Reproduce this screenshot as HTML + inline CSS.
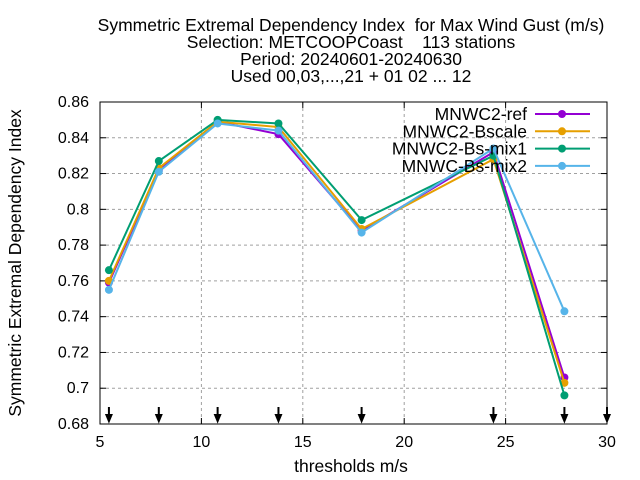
<!DOCTYPE html>
<html><head><meta charset="utf-8"><style>
body{margin:0;background:#fff}
svg{display:block;font-family:"Liberation Sans",sans-serif}
text{white-space:pre}
</style></head><body>
<svg id="c" width="640" height="480" xmlns="http://www.w3.org/2000/svg">
<g id="title" font-size="17.5" text-anchor="middle" fill="#000">
<text x="351" y="31" xml:space="preserve">Symmetric Extremal Dependency Index  for Max Wind Gust (m/s)</text>
<text x="351" y="48" xml:space="preserve">Selection: METCOOPCoast    113 stations</text>
<text x="351" y="65">Period: 20240601-20240630</text>
<text x="351" y="82">Used 00,03,...,21 + 01 02 ... 12</text>
</g>
<g id="grid"></g>
<g id="axes"></g>
<g id="series"></g>
<g id="legend"></g>
<text x="351" y="472" font-size="17.5" text-anchor="middle">thresholds m/s</text>
<text transform="translate(21,263) rotate(-90)" font-size="17.5" text-anchor="middle">Symmetric Extremal Dependency Index</text>
</svg>
<script>
const thresholds=[5.44,7.9,10.8,13.8,17.9,24.4,27.9];
const arrowX=[5.44,7.9,10.8,13.8,17.9,24.4,27.9,30];
const seriesNames=["MNWC2-ref","MNWC2-Bscale","MNWC2-Bs-mix1","MNWC-Bs-mix2"];
const refVals=[0.759,0.822,0.849,0.842,0.788,0.832,0.706];
const bscaleVals=[0.760,0.823,0.849,0.846,0.789,0.828,0.703];
const mix1Vals=[0.766,0.827,0.850,0.848,0.794,0.830,0.696];
const mix2Vals=[0.755,0.821,0.848,0.844,0.787,0.834,0.743];
const xTicks=[5,10,15,20,25,30];
const yTicks=[0.68,0.7,0.72,0.74,0.76,0.78,0.8,0.82,0.84,0.86];
const yLabels=["0.68","0.7","0.72","0.74","0.76","0.78","0.8","0.82","0.84","0.86"];
const colors=["#9400d3","#e69f00","#009e73","#56b4e9"];
const NS="http://www.w3.org/2000/svg";
const L=100,R=607,T=102,B=424;
const sx=v=>L+(v-5)/25*(R-L);
const sy=v=>B-(v-0.68)/0.18*(B-T);
function mk(p,tag,a){const e=document.createElementNS(NS,tag);for(const k in a)e.setAttribute(k,a[k]);p.appendChild(e);return e;}
const grid=document.getElementById('grid'),axes=document.getElementById('axes'),ser=document.getElementById('series'),leg=document.getElementById('legend');
yTicks.forEach((v,i)=>{
 if(i>0&&i<yTicks.length-1){const g=mk(grid,'line',{x1:L,x2:R,y1:sy(v),y2:sy(v),stroke:'#a0a0a0','stroke-dasharray':'3,3'});}
 mk(axes,'line',{x1:L,x2:L+6,y1:sy(v),y2:sy(v),stroke:'#000'});mk(axes,'line',{x1:R,x2:R-6,y1:sy(v),y2:sy(v),stroke:'#000'});
 const t=mk(axes,'text',{x:L-11,y:sy(v)+5,'font-size':16,'text-anchor':'end'});t.textContent=yLabels[i];
 
});
xTicks.forEach(v=>{
 if(v>5&&v<30){const g=mk(grid,'line',{x1:sx(v),x2:sx(v),y1:T,y2:B,stroke:'#a0a0a0','stroke-dasharray':'3,3'});}
 mk(axes,'line',{x1:sx(v),x2:sx(v),y1:B,y2:B-6,stroke:'#000'});mk(axes,'line',{x1:sx(v),x2:sx(v),y1:T,y2:T+6,stroke:'#000'});
 const t=mk(axes,'text',{x:sx(v),y:B+23,'font-size':16,'text-anchor':'middle'});t.textContent=v;
 
});
mk(axes,'rect',{x:L,y:T,width:R-L,height:B-T,fill:'none',stroke:'#000'});
arrowX.forEach(v=>{const x=sx(v);
 const a=mk(axes,'path',{d:`M${x} ${B-17}V${B-4}M${x-2.5} ${B-9}L${x} ${B-3}L${x+2.5} ${B-9}Z`,stroke:'#000','stroke-width':2,fill:'#000'});
 });
[refVals,bscaleVals,mix1Vals,mix2Vals].forEach((vals,i)=>{
 const g=mk(ser,'g',{});
 mk(g,'polyline',{points:vals.map((v,j)=>sx(thresholds[j])+','+sy(v)).join(' '),fill:'none',stroke:colors[i],'stroke-width':2});
 vals.forEach((v,j)=>{const c=mk(g,'circle',{cx:sx(thresholds[j]),cy:sy(v),r:4,fill:colors[i]});});
 const ly=114+i*17.3;
 const t=mk(leg,'text',{x:527,y:ly+6,'font-size':17.5,'text-anchor':'end'});t.textContent=seriesNames[i];
 
 mk(leg,'line',{x1:535,x2:590,y1:ly,y2:ly,stroke:colors[i],'stroke-width':2});
 mk(leg,'circle',{cx:562,cy:ly,r:4,fill:colors[i]});
});
</script>
</body></html>
